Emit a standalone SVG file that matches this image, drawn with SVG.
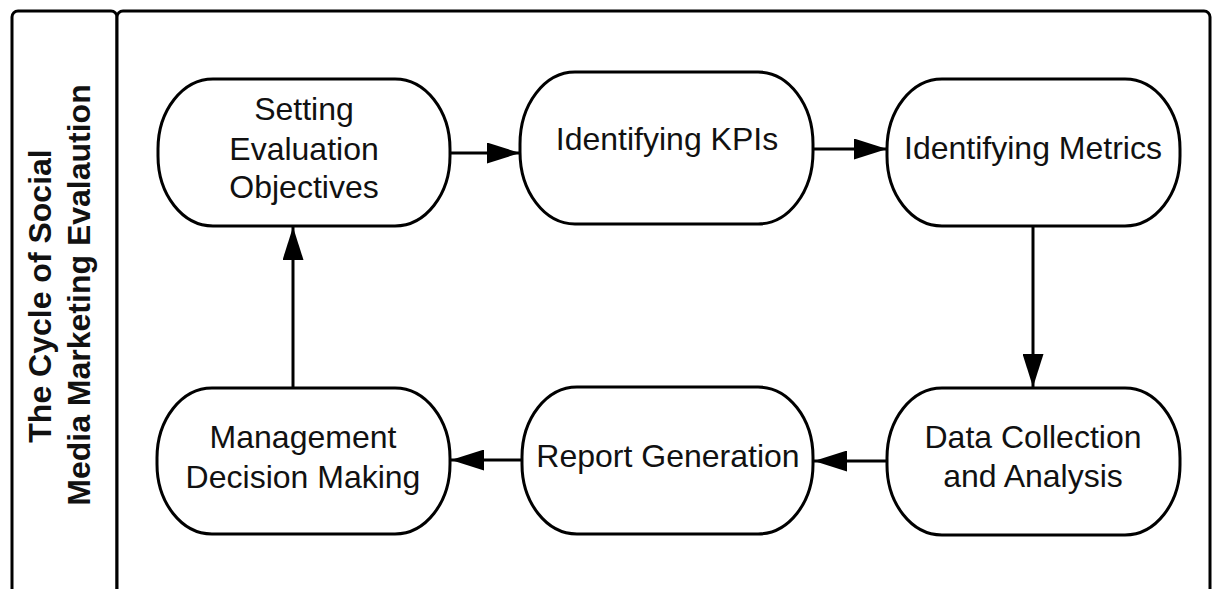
<svg xmlns="http://www.w3.org/2000/svg" width="1212" height="589" viewBox="0 0 1212 589">
<style>
.frame{fill:#fff;stroke:#000;stroke-width:3}
.node{fill:#fff;stroke:#000;stroke-width:3}
.lbl{font-family:"Liberation Sans",Arial,sans-serif;font-size:32px;fill:#111;text-anchor:middle}
.title{font-family:"Liberation Sans",Arial,sans-serif;font-size:32px;font-weight:bold;fill:#111;text-anchor:middle}
.edge{stroke:#000;stroke-width:3;fill:none;marker-end:url(#ah)}
</style>
<defs>
<marker id="ah" markerWidth="11" markerHeight="7" refX="11" refY="3.5" orient="auto" markerUnits="strokeWidth">
<path d="M0,0 L11,3.5 L0,7 Z" fill="#000"/>
</marker>
</defs>
<rect width="1212" height="589" fill="#fff"/>
<g id="frame">
<rect class="frame" x="12" y="11" width="105" height="600" rx="6"/>
<rect class="frame" x="117" y="11" width="1093" height="600" rx="6"/>
</g>
<g id="title">
<text class="title" transform="translate(51,296) rotate(-90)">The Cycle of Social</text>
<text class="title" transform="translate(90,295) rotate(-90)">Media Marketing Evalaution</text>
</g>
<g id="connectors">
<line class="edge" x1="450" y1="153" x2="520" y2="153"/>
<line class="edge" x1="813" y1="149" x2="887" y2="149"/>
<line class="edge" x1="1033" y1="226" x2="1033" y2="387"/>
<line class="edge" x1="887" y1="461" x2="814" y2="461"/>
<line class="edge" x1="522" y1="460" x2="451" y2="460"/>
<line class="edge" x1="293" y1="388" x2="293" y2="227"/>
</g>
<g id="n1">
<rect class="node" x="158" y="79" width="292" height="147" rx="55" ry="70"/>
<text class="lbl" x="304" y="120">Setting</text>
<text class="lbl" x="304" y="160">Evaluation</text>
<text class="lbl" x="304" y="198">Objectives</text>
</g>
<g id="n2">
<rect class="node" x="520" y="72" width="293" height="152" rx="55" ry="72"/>
<text class="lbl" x="667" y="150">Identifying KPIs</text>
</g>
<g id="n3">
<rect class="node" x="887" y="79" width="293" height="147" rx="55" ry="70"/>
<text class="lbl" x="1033" y="159">Identifying Metrics</text>
</g>
<g id="n4">
<rect class="node" x="887" y="388" width="293" height="147" rx="55" ry="70"/>
<text class="lbl" x="1033" y="448">Data Collection</text>
<text class="lbl" x="1033" y="487">and Analysis</text>
</g>
<g id="n5">
<rect class="node" x="522" y="387" width="291" height="147" rx="55" ry="70"/>
<text class="lbl" x="668" y="467">Report Generation</text>
</g>
<g id="n6">
<rect class="node" x="157" y="388" width="293" height="146" rx="55" ry="70"/>
<text class="lbl" x="303" y="448">Management</text>
<text class="lbl" x="303" y="488">Decision Making</text>
</g>
</svg>
